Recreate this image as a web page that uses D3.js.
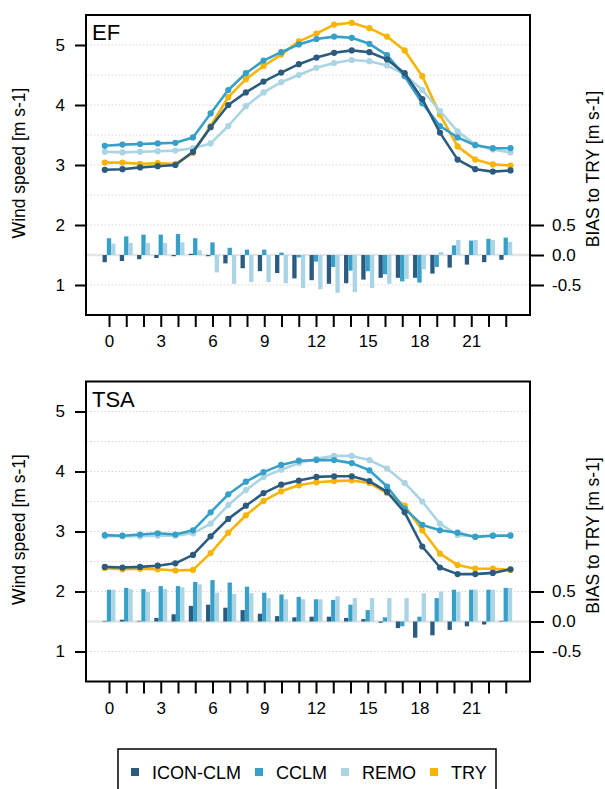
<!DOCTYPE html>
<html>
<head>
<meta charset="utf-8">
<script src="https://cdn.jsdelivr.net/npm/d3@7"></script>
<style>
  body { margin: 0; background: #fff; }
  svg { display: block; }
  text { font-family: "Liberation Sans", Arial, Helvetica, sans-serif; fill: #000; }
</style>
</head>
<body>
<svg id="chart" width="605" height="789"></svg>
<script>
// Diurnal cycle of wind speed (hour of day) for two sites, with model bias to TRY.
const hours = [0,1,2,3,4,5,6,7,8,9,10,11,12,13,14,15,16,17,18,19,20,21,22,23];
const hourLabels = [0,3,6,9,12,15,18,21];
const speedTicks = [1,2,3,4,5];
const gridValues = [1,2,2.5,3,3.5,4,4.5,5];
const biasTicks = [-0.5,0,0.5];
const models = ["ICON-CLM","CCLM","REMO","TRY"];
const biasModels = ["ICON-CLM","CCLM","REMO"];
const modelColors = ["#2b5c80","#36a0c8","#abd4e4","#f8b404"];
const panelNames = ["EF","TSA"];

// EF: mean wind speed [m s-1]
const efIcon = [2.92,2.93,2.96,2.98,3.00,3.22,3.63,4.00,4.21,4.39,4.54,4.68,4.79,4.87,4.91,4.88,4.76,4.53,4.10,3.54,3.09,2.93,2.89,2.91];
const efCclm = [3.32,3.34,3.35,3.36,3.37,3.46,3.86,4.25,4.53,4.74,4.88,5.01,5.10,5.14,5.12,5.02,4.83,4.48,4.03,3.65,3.46,3.33,3.28,3.28];
const efRemo = [3.22,3.21,3.22,3.23,3.24,3.28,3.36,3.65,3.98,4.21,4.38,4.50,4.62,4.70,4.75,4.73,4.66,4.51,4.25,3.90,3.56,3.34,3.26,3.21];
const efTry  = [3.04,3.04,3.02,3.03,3.02,3.20,3.65,4.13,4.43,4.65,4.84,5.06,5.19,5.34,5.37,5.28,5.14,4.91,4.48,3.84,3.31,3.09,3.01,2.99];
// EF: bias to TRY [m s-1]
const efBiasIcon = [-0.12,-0.10,-0.07,-0.05,-0.02,0.02,-0.02,-0.14,-0.22,-0.27,-0.30,-0.39,-0.42,-0.48,-0.47,-0.41,-0.38,-0.38,-0.38,-0.31,-0.21,-0.16,-0.12,-0.08];
const efBiasCclm = [0.28,0.31,0.34,0.34,0.35,0.28,0.21,0.12,0.09,0.09,0.04,-0.04,-0.11,-0.20,-0.26,-0.27,-0.32,-0.44,-0.46,-0.20,0.16,0.24,0.27,0.29];
const efBiasRemo = [0.19,0.20,0.20,0.20,0.21,0.08,-0.29,-0.48,-0.45,-0.45,-0.47,-0.55,-0.57,-0.63,-0.62,-0.55,-0.48,-0.40,-0.24,0.05,0.25,0.25,0.25,0.22];

// TSA: mean wind speed [m s-1]
const tsaIcon = [2.41,2.40,2.41,2.43,2.47,2.61,2.92,3.21,3.43,3.64,3.78,3.85,3.91,3.92,3.92,3.84,3.66,3.32,2.75,2.40,2.29,2.29,2.31,2.37];
const tsaCclm = [2.94,2.93,2.95,2.97,2.95,3.02,3.32,3.62,3.83,3.99,4.11,4.18,4.19,4.19,4.14,4.02,3.75,3.38,3.11,3.02,2.98,2.91,2.93,2.93];
const tsaRemo = [2.92,2.92,2.92,2.93,2.93,2.97,3.13,3.44,3.69,3.91,4.03,4.14,4.21,4.26,4.26,4.19,4.05,3.81,3.50,3.13,2.94,2.92,2.93,2.94];
const tsaTry  = [2.39,2.37,2.38,2.37,2.35,2.36,2.64,2.98,3.27,3.51,3.67,3.77,3.82,3.84,3.85,3.81,3.64,3.43,3.02,2.63,2.44,2.38,2.38,2.36];
// TSA: bias to TRY [m s-1]
const tsaBiasIcon = [0.01,0.03,0.01,0.06,0.12,0.26,0.28,0.23,0.19,0.13,0.09,0.07,0.08,0.08,0.06,0.04,-0.02,-0.11,-0.27,-0.23,-0.14,-0.08,-0.05,0.01];
const tsaBiasCclm = [0.53,0.56,0.54,0.59,0.59,0.66,0.69,0.65,0.58,0.48,0.45,0.41,0.37,0.36,0.28,0.19,0.07,-0.08,0.08,0.39,0.53,0.53,0.53,0.56];
const tsaBiasRemo = [0.53,0.54,0.49,0.54,0.57,0.62,0.48,0.46,0.47,0.39,0.37,0.37,0.37,0.42,0.39,0.39,0.39,0.39,0.47,0.50,0.49,0.53,0.53,0.56];

const panels = [
  { name: panelNames[0], speed: [efIcon, efCclm, efRemo, efTry], bias: [efBiasIcon, efBiasCclm, efBiasRemo] },
  { name: panelNames[1], speed: [tsaIcon, tsaCclm, tsaRemo, tsaTry], bias: [tsaBiasIcon, tsaBiasCclm, tsaBiasRemo] }
];

const color = d3.scaleOrdinal().domain(models).range(modelColors);

const svg = d3.select("#chart");
const plotLeft = 86, plotRight = 530;
const panelTop0 = 15, panelH = 300, panelStep = 366.5;
const fontStack = "'Liberation Sans', Arial, sans-serif";

// hour groups for the bias bars (tick marks sit on group centres)
const xBand = d3.scaleBand().domain(hours).range([100.375, 514.375]).paddingInner(0.25).paddingOuter(0.125);
const xSub = d3.scaleBand().domain(biasModels).range([0, xBand.bandwidth()]);
const xCenter = h => xBand(h) + xBand.bandwidth() / 2;
// hour positions for the wind speed curves
const xLine = d3.scaleLinear().domain([0, 23]).range([104.8, 510.5]);

panels.forEach((p, i) => {
  const top = panelTop0 + i * panelStep;
  const bottom = top + panelH;
  const g = svg.append("g");

  const y = d3.scaleLinear().domain([0.5, 5.5]).range([bottom, top]);
  const yBias = d3.scaleLinear().domain([-1, 4]).range([bottom, top]);

  // dotted grid
  g.append("g").selectAll("line").data(gridValues).join("line")
    .attr("x1", plotLeft + 1).attr("x2", plotRight - 1)
    .attr("y1", d => y(d)).attr("y2", d => y(d))
    .attr("stroke", "#d6d6d6").attr("stroke-width", 1).attr("stroke-dasharray", "1.5,2");

  // zero-bias reference
  g.append("line")
    .attr("x1", plotLeft + 1).attr("x2", plotRight - 1)
    .attr("y1", yBias(0)).attr("y2", yBias(0))
    .attr("stroke", "#e6e6e6").attr("stroke-width", 2.5);

  // bias bars
  const groups = g.append("g").selectAll("g").data(hours).join("g")
    .attr("transform", h => `translate(${xBand(h)},0)`);
  groups.selectAll("rect")
    .data(h => biasModels.map((m, k) => ({ m, v: p.bias[k][h] })))
    .join("rect")
    .attr("x", d => xSub(d.m))
    .attr("width", xSub.bandwidth())
    .attr("y", d => yBias(Math.max(0, d.v)))
    .attr("height", d => Math.abs(yBias(d.v) - yBias(0)))
    .attr("fill", d => color(d.m));

  // wind speed curves (TRY underneath)
  const line = d3.line().x((d, h) => xLine(h)).y(d => y(d));
  [3, 2, 1, 0].forEach(k => {
    const m = models[k];
    const s = g.append("g");
    s.append("path").datum(p.speed[k]).attr("d", line)
      .attr("fill", "none").attr("stroke", color(m)).attr("stroke-width", 2.6)
      .attr("stroke-linejoin", "round");
    s.selectAll("circle").data(p.speed[k]).join("circle")
      .attr("cx", (d, h) => xLine(h)).attr("cy", d => y(d)).attr("r", 3.1)
      .attr("fill", color(m));
  });

  // frame
  g.append("rect")
    .attr("x", plotLeft).attr("y", top)
    .attr("width", plotRight - plotLeft).attr("height", panelH)
    .attr("fill", "none").attr("stroke", "#000").attr("stroke-width", 2);

  // left axis
  const yAxis = d3.axisLeft(y).tickValues(speedTicks).tickSize(11).tickPadding(10).tickFormat(d3.format("d"));
  const ya = g.append("g").attr("transform", `translate(${plotLeft},0)`).call(yAxis);
  ya.select(".domain").remove();
  ya.selectAll(".tick line").attr("stroke", "#000").attr("stroke-width", 2);
  ya.selectAll(".tick text").style("font-size", "17px").style("font-family", fontStack);

  // right axis (bias)
  const bAxis = d3.axisRight(yBias).tickValues(biasTicks).tickSize(14).tickPadding(8).tickFormat(d3.format(".1f"));
  const ba = g.append("g").attr("transform", `translate(${plotRight},0)`).call(bAxis);
  ba.select(".domain").remove();
  ba.selectAll(".tick line").attr("stroke", "#000").attr("stroke-width", 2);
  ba.selectAll(".tick text").style("font-size", "17px").style("font-family", fontStack)
    .text(d => d < 0 ? "-" + d3.format(".1f")(-d) : d3.format(".1f")(d));

  // hour axis: ticks every hour hanging below the frame, labels every 3 h
  const xAxis = d3.axisBottom(d3.scaleLinear().domain([0, 23]).range([xCenter(0), xCenter(23)]))
    .tickValues(hours).tickSize(12).tickPadding(8)
    .tickFormat(h => hourLabels.includes(h) ? String(h) : "");
  const xa = g.append("g").attr("transform", `translate(0,${bottom})`).call(xAxis);
  xa.select(".domain").remove();
  xa.selectAll(".tick line").attr("stroke", "#000").attr("stroke-width", 2);
  xa.selectAll(".tick text").style("font-size", "17px").style("font-family", fontStack);

  // panel name
  g.append("text").attr("x", plotLeft + 6).attr("y", top + 25)
    .style("font-size", "22px").text(p.name);

  // axis titles
  const midY = (top + bottom) / 2 - 2;
  g.append("text").attr("transform", `translate(25,${midY}) rotate(-90)`)
    .attr("text-anchor", "middle").style("font-size", "17.5px").text("Wind speed [m s-1]");
  g.append("text").attr("transform", `translate(599,${midY + 6}) rotate(-90)`)
    .attr("text-anchor", "middle").style("font-size", "17.5px").text("BIAS to TRY [m s-1]");
});

// legend
const leg = svg.append("g");
leg.append("rect").attr("x", 118).attr("y", 749).attr("width", 378).attr("height", 60)
  .attr("fill", "#fff").attr("stroke", "#000").attr("stroke-width", 1.5);
let lx = 131;
models.forEach(m => {
  leg.append("rect").attr("x", lx).attr("y", 768).attr("width", 8).attr("height", 8).attr("fill", color(m));
  const t = leg.append("text").attr("x", lx + 21).attr("y", 778.5).style("font-size", "18px").text(m);
  lx += 21 + t.node().getComputedTextLength() + 14;
});
</script>
</body>
</html>
